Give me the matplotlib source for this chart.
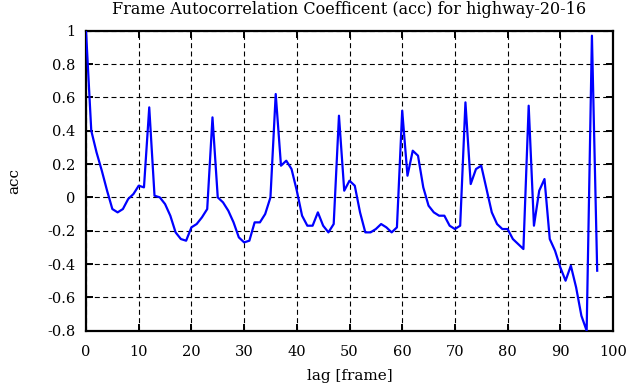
import matplotlib
matplotlib.use("Agg")
import matplotlib.pyplot as plt

lag = list(range(98))
acc = [1.0, 0.40, 0.27, 0.16, 0.04, -0.07, -0.09, -0.07, -0.01, 0.02,
       0.07, 0.06, 0.54, 0.01, 0.0, -0.04, -0.11, -0.21, -0.25, -0.26,
       -0.18, -0.16, -0.12, -0.07, 0.48, 0.0, -0.03, -0.08, -0.15, -0.24,
       -0.27, -0.26, -0.15, -0.15, -0.10, 0.0, 0.62, 0.19, 0.22, 0.17,
       0.04, -0.11, -0.17, -0.17, -0.09, -0.17, -0.21, -0.16, 0.49, 0.04,
       0.10, 0.07, -0.09, -0.21, -0.21, -0.19, -0.16, -0.18, -0.21, -0.18,
       0.52, 0.13, 0.28, 0.25, 0.06, -0.05, -0.09, -0.11, -0.11, -0.17,
       -0.19, -0.17, 0.57, 0.08, 0.17, 0.19, 0.05, -0.09, -0.16, -0.19,
       -0.19, -0.25, -0.28, -0.31, 0.55, -0.17, 0.04, 0.11, -0.25, -0.32,
       -0.42, -0.50, -0.41, -0.54, -0.71, -0.80, 0.97, -0.44]

xticks = [0, 10, 20, 30, 40, 50, 60, 70, 80, 90, 100]
yticks = [-0.8, -0.6, -0.4, -0.2, 0, 0.2, 0.4, 0.6, 0.8, 1]
ytick_labels = ["-0.8", "-0.6", "-0.4", "-0.2", "0", "0.2", "0.4", "0.6", "0.8", "1"]

plt.rcParams['font.family'] = ['DejaVu Serif']
plt.rcParams['lines.scale_dashes'] = False

fig = plt.figure(figsize=(6.41, 3.87), dpi=100)
ax = fig.add_axes([86/641, 1 - 330.7/387, (613-86)/641, 300/387])

ax.plot(lag, acc, color='#0000ff', lw=1.6, zorder=3)

ax.set_xlim(0, 100)
ax.set_ylim(-0.8, 1)
ax.set_xticks(xticks)
ax.set_xticklabels([str(t) for t in xticks])
ax.set_yticks(yticks)
ax.set_yticklabels(ytick_labels)

ax.grid(True, color='black', linestyle=(0, (3.6, 2.4)), lw=0.8)
for s in ax.spines.values():
    s.set_linewidth(1.6)
ax.tick_params(direction='in', length=5, width=1.4, top=True, right=True,
               labelsize=10.5)
ax.tick_params(axis='y', pad=7.5)
ax.tick_params(axis='x', pad=10)

ax.set_title("Frame Autocorrelation Coefficent (acc) for highway-20-16", fontsize=11.5, pad=12)
ax.set_xlabel("lag [frame]", fontsize=11, labelpad=7.5)
ax.set_ylabel("acc", fontsize=11, labelpad=19)

fig.savefig("out.png", dpi=100)
